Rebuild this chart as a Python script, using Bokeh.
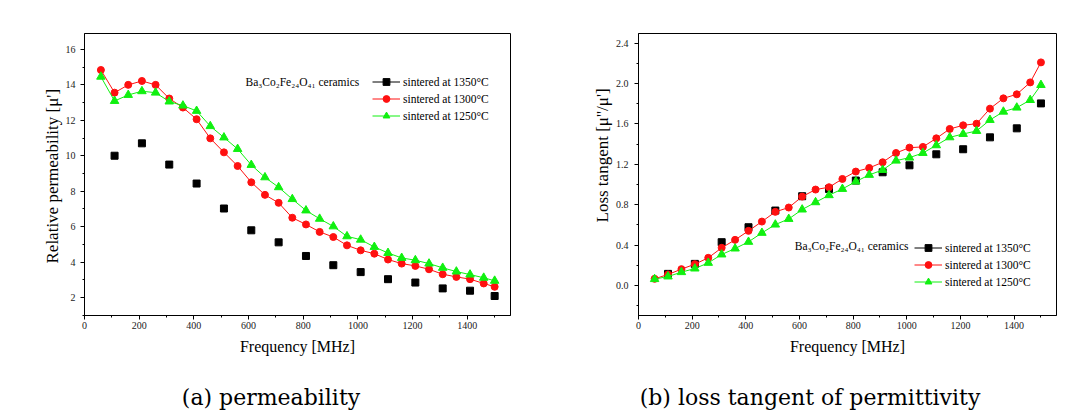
import numpy as np
from bokeh.plotting import figure
from bokeh.models import (Range1d, SingleIntervalTicker, Legend, LegendItem, Label, Title,
                          PrintfTickFormatter)
from bokeh.layouts import row, column
from bokeh.embed import file_html
from bokeh.resources import INLINE

# ---------------- data ----------------
freq = [60, 110, 160, 210, 260, 310, 360, 410, 460, 510, 560, 610, 660, 710, 760,
        810, 860, 910, 960, 1010, 1060, 1110, 1160, 1210, 1260, 1310, 1360, 1410, 1460, 1500]
freq_1350 = [110, 210, 310, 410, 510, 610, 710, 810, 910, 1010, 1110, 1210, 1310, 1410, 1500]

perm_1350 = [10.0, 10.70, 9.50, 8.43, 7.02, 5.79, 5.11, 4.34, 3.82, 3.43, 3.03, 2.84, 2.51, 2.38, 2.08]
perm_1300 = [14.84, 13.56, 14.00, 14.22, 14.00, 13.23, 12.72, 12.06, 10.98, 10.19, 9.42, 8.50,
             7.79, 7.34, 6.50, 6.12, 5.70, 5.41, 4.94, 4.66, 4.47, 4.14, 3.91, 3.78, 3.59,
             3.31, 3.16, 3.03, 2.79, 2.60]
perm_1250 = [14.46, 13.09, 13.43, 13.64, 13.56, 13.06, 12.83, 12.53, 11.67, 11.03, 10.38, 9.48,
             8.78, 8.22, 7.55, 6.91, 6.44, 6.01, 5.45, 5.26, 4.85, 4.51, 4.23, 4.10, 3.91,
             3.67, 3.46, 3.29, 3.11, 2.94]

loss_1350 = [0.115, 0.214, 0.429, 0.577, 0.742, 0.884, 0.956, 1.039, 1.121, 1.190, 1.299,
             1.349, 1.467, 1.556, 1.803]
loss_1300 = [0.066, 0.109, 0.162, 0.211, 0.274, 0.373, 0.452, 0.541, 0.633, 0.729, 0.772, 0.880,
             0.950, 0.973, 1.055, 1.128, 1.164, 1.220, 1.312, 1.365, 1.372, 1.457, 1.550, 1.586,
             1.602, 1.751, 1.853, 1.893, 2.011, 2.209]
loss_1250 = [0.063, 0.089, 0.132, 0.168, 0.224, 0.307, 0.366, 0.432, 0.521, 0.603, 0.659, 0.752,
             0.824, 0.894, 0.956, 1.029, 1.095, 1.144, 1.236, 1.266, 1.312, 1.388, 1.467, 1.500,
             1.530, 1.639, 1.721, 1.761, 1.836, 1.985]

series_labels = ["sintered at 1350°C", "sintered at 1300°C", "sintered at 1250°C"]
material = "Ba₃Co₂Fe₂₄O₄₁ ceramics"
x_title = "Frequency [MHz]"
y_title_a = "Relative permeability [μ']"
y_title_b = "Loss tangent [μ''/μ']"
caption_a = "(a)  permeability"
caption_b = "(b)  loss tangent of permittivity"

SERIF = "Liberation Serif"
RED = "#ff1010"
GREEN = "#10f010"
PLOT_H = 370
CAP_H = 48


def make_panel(y1350, y1300, y1250, y_range, y_interval, y_fmt, width, mb_left, mb_right,
               y_standoff, legend_loc, mat_pos, ytitle, ytitle_offset):
    p = figure(width=width, height=PLOT_H, x_range=Range1d(0, 1558), y_range=Range1d(*y_range),
               output_backend="svg", toolbar_location=None,
               min_border_left=mb_left, min_border_right=mb_right,
               min_border_top=33, min_border_bottom=PLOT_H - 315)
    p.grid.visible = False
    p.outline_line_color = "black"
    p.outline_line_width = 1
    p.outline_line_alpha = 1
    p.background_fill_color = "white"
    p.border_fill_color = "white"

    p.xaxis.ticker = SingleIntervalTicker(interval=200, num_minor_ticks=2)
    p.yaxis.ticker = SingleIntervalTicker(interval=y_interval, num_minor_ticks=2)
    if y_fmt:
        p.yaxis.formatter = PrintfTickFormatter(format=y_fmt)
    for ax in (p.xaxis[0], p.yaxis[0]):
        ax.major_tick_in = 0
        ax.major_tick_out = 4
        ax.minor_tick_in = 0
        ax.minor_tick_out = 2
        ax.axis_line_color = "black"
        ax.major_tick_line_color = "black"
        ax.minor_tick_line_color = "black"
        ax.major_label_text_font = SERIF
        ax.major_label_text_font_size = "10px"
        ax.major_label_text_color = "#222222"
    p.xaxis.major_label_standoff = 2
    p.yaxis.major_label_standoff = y_standoff
    p.xaxis.axis_label = x_title
    p.xaxis.axis_label_text_font = SERIF
    p.xaxis.axis_label_text_font_size = "16px"
    p.xaxis.axis_label_text_font_style = "normal"
    p.xaxis.axis_label_text_color = "black"
    p.xaxis.axis_label_standoff = 6

    # series
    blk_leg = p.line(x=freq_1350, y=[float("nan")] * len(freq_1350), line_color="black", line_width=1)
    blk = p.scatter(freq_1350, y1350, marker="square", size=7, color="black")
    r_line = p.line(freq, y1300, line_color=RED, line_width=1)
    r_pts = p.scatter(freq, y1300, marker="circle", size=7, color=RED)
    g_line = p.line(freq, y1250, line_color=GREEN, line_width=1)
    g_pts = p.scatter(freq, y1250, marker="triangle", size=8.5, color=GREEN)

    legend = Legend(items=[LegendItem(label=series_labels[0], renderers=[blk_leg, blk]),
                           LegendItem(label=series_labels[1], renderers=[r_line, r_pts]),
                           LegendItem(label=series_labels[2], renderers=[g_line, g_pts])],
                    location=legend_loc, padding=0, margin=0, spacing=0,
                    glyph_width=28, glyph_height=17, label_height=17, label_standoff=3,
                    label_text_font=SERIF, label_text_font_size="11.5px",
                    label_text_color="black", background_fill_alpha=0, border_line_alpha=0)
    p.add_layout(legend)

    p.add_layout(Label(x=mat_pos[0], y=mat_pos[1], x_units="screen", y_units="screen",
                       text=material, text_font=SERIF, text_font_size="11.5px",
                       text_align="left", text_baseline="middle", text_color="black"))
    p.add_layout(Title(text=ytitle, align="left", offset=ytitle_offset, standoff=2,
                       text_font=SERIF, text_font_size="17px", text_font_style="normal",
                       text_color="black"), "left")
    return p


p1 = make_panel(perm_1350, perm_1300, perm_1250, (0.98, 16.9), 2, None, 548, 84, 38, 5,
                (288, 191), (161, 234), y_title_a, 52)
p2 = make_panel(loss_1350, loss_1300, loss_1250, (-0.297, 2.495), 0.4, "%.1f", 530, 90, 22, 6,
                (276, 25), (156.3, 69.3), y_title_b, 93)

# caption strip below both panels
cap = figure(width=1078, height=CAP_H, x_range=Range1d(0, 1078), y_range=Range1d(0, CAP_H),
             output_backend="svg", toolbar_location=None, x_axis_type=None, y_axis_type=None,
             min_border=0)
cap.grid.visible = False
cap.outline_line_color = None
cap.add_layout(Label(x=274, y=CAP_H - 26.7, text=caption_a, text_font="DejaVu Serif",
                     text_font_size="22px", text_align="center", text_baseline="middle",
                     text_color="black"))
cap.add_layout(Label(x=813, y=CAP_H - 26.7, text=caption_b, text_font="DejaVu Serif",
                     text_font_size="22px", text_align="center", text_baseline="middle",
                     text_color="black"))

layout = column(row(p1, p2), cap)
open("out.html", "w").write(file_html(layout, INLINE))
